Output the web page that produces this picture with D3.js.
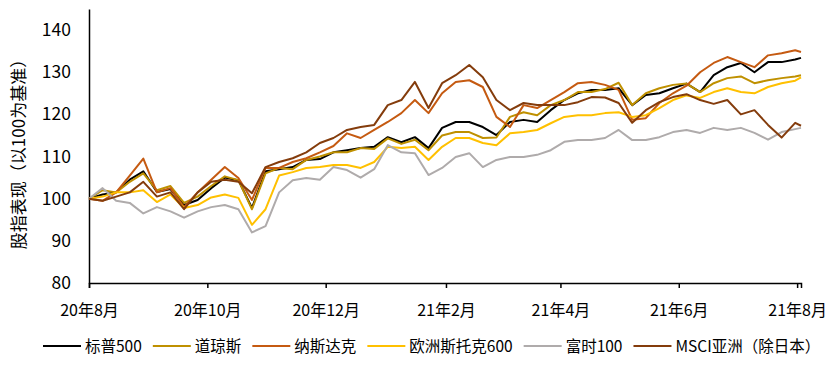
<!DOCTYPE html>
<html>
<head>
<meta charset="utf-8">
<script src="https://cdn.jsdelivr.net/npm/d3@7/dist/d3.min.js"></script>
<style>
body { margin: 0; background: #fff; }
text { font-family: "Noto Sans CJK SC", "Noto Sans", sans-serif; fill: #000; }
</style>
</head>
<body>
<script>
var width = 839, height = 370;

// weekly readings from 2020-08-01, last point 2021-08-03
var startDate = new Date(2020, 7, 1);
var endDate = new Date(2021, 7, 3);

var names = ["标普500", "道琼斯", "纳斯达克", "欧洲斯托克600", "富时100", "MSCI亚洲（除日本）"];
var colors = ["#000000", "#BF9000", "#C55A11", "#FFC000", "#AFABAB", "#843C0C"];

var spx = [100,101,101.5,104.5,106.5,101.6,102.3,98.5,99.7,102.5,105,104.4,97.8,106.5,107,107.5,109.2,109.4,111,111.5,112,112.3,114.6,113.4,114.6,112,116.8,118.2,118.2,117,115.1,118.2,118.7,118.2,121,123.4,125,125.8,125.8,126.2,122.2,124.6,125,126.2,127.3,125.3,129.3,131.2,132.2,130,132.4,132.4,133,133.4];
var dow = [100,102,101.5,104,106,102,103,99,100.5,103,105.3,104.4,97.5,106,107.3,107,109.2,110,111,111,112,111.8,114.3,113,114,111.5,115,115.8,115.8,114.4,114.5,119.4,120.5,119.8,122.2,123.4,125.3,125.3,126,127.5,122.2,125,126.2,127,127.3,125.3,127.4,128.6,129,127.4,128.1,128.6,129,129.3];
var nasdaq = [100,99.5,101.5,105.5,109.5,101.5,102.5,98,101.5,104.5,107.5,104.9,99.7,107.3,107.3,108.7,109.6,111,112.5,115.5,114.4,116.3,118.2,120.3,123.4,120.3,125,127.7,128.1,126.5,119.4,117,122.2,121.5,123.4,125.3,127.4,127.7,127,125.8,118.7,119.1,122.7,125,126.8,130,132.2,133.6,132.4,131.2,134,134.5,135.2,134.8];
var stoxx = [100,100.5,101.5,101.5,102,99.2,101,97.8,98.5,100.3,101,100.2,93.8,97.5,105.5,106.3,107.3,107.5,108,108,107.3,108.7,112.3,112,112.3,109.2,112.3,114.4,114.4,113.2,112.7,115.5,115.8,116.3,117.9,119.4,119.8,119.8,120.3,120.5,119.4,119.8,121.5,123.4,124.5,123.9,125.3,126.2,125.3,125,126.5,127.4,128,128.8];
var ftse = [100,102.5,99.5,99,96.5,98,97,95.5,97,98,98.5,97.5,92,93.5,101.5,104.4,104.9,104.5,107.5,106.8,105,107,112.7,111,110.8,105.6,107.3,109.9,110.8,107.5,109.2,109.9,109.9,110.4,111.5,113.5,113.9,113.9,114.4,116.3,113.9,113.9,114.6,115.8,116.3,115.6,116.8,116.3,116.8,115.6,114,115.8,116.5,116.8];
var msci = [100,99.5,100.5,101.5,104,100.5,101.5,97.5,101.5,104,104.5,104,101.3,107.5,108.7,109.6,111,113.2,114.4,116.3,117,117.5,122.2,123.4,127.7,121.5,127.4,129.3,131.7,128.8,123.4,121,122.7,122.2,122.2,122.2,122.9,124.1,124,122.7,118,121,122.9,124.1,124.8,123.4,122.5,123.4,120,121,117.5,114.5,118,117.3];

var allSeries = [spx, dow, nasdaq, stoxx, ftse, msci];
var yTicks = [80, 90, 100, 110, 120, 130, 140];
var xTicks = [new Date(2020, 7, 1), new Date(2020, 9, 1), new Date(2020, 11, 1),
              new Date(2021, 1, 1), new Date(2021, 3, 1), new Date(2021, 5, 1), new Date(2021, 7, 1)];

var dates = spx.map(function(d, i){
    return i < spx.length - 1 ? d3.timeDay.offset(startDate, 7 * i) : endDate;
});

var svg = d3.select("body").append("svg")
            .attr("width", width).attr("height", height);

var x = d3.scaleTime().domain([startDate, endDate]).range([89, 801]);
var y = d3.scaleLinear().domain([80, 145]).range([283, 9]);

// y axis
var yAxis = svg.append("g").attr("transform", "translate(89,0)")
               .call(d3.axisLeft(y).tickValues(yTicks).tickSize(0).tickPadding(18));
yAxis.select(".domain").attr("stroke", "#000").attr("stroke-width", 1.5);
yAxis.selectAll("text").style("font-size", "17.5px");

// x axis
var xAxis = svg.append("g").attr("transform", "translate(0,283)")
               .call(d3.axisBottom(x).tickValues(xTicks).tickSize(5).tickPadding(17)
               .tickFormat(function(d){ return (d.getFullYear() % 100) + "年" + (d.getMonth() + 1) + "月"; }));
xAxis.select(".domain").attr("stroke", "#000").attr("stroke-width", 1.5);
xAxis.selectAll(".tick line").attr("stroke", "#000").attr("stroke-width", 1.5);
xAxis.selectAll("text").style("font-size", "16px");

svg.append("text").attr("transform", "translate(25,150) rotate(-90)")
   .attr("text-anchor", "middle").style("font-size", "17px")
   .text("股指表现（以100为基准）");

var line = d3.line()
             .x(function(d, i){ return x(dates[i]); })
             .y(function(d){ return y(d); });

svg.append("g").selectAll("path").data(allSeries).enter().append("path")
   .attr("d", line)
   .attr("fill", "none")
   .attr("stroke", function(d, i){ return colors[i]; })
   .attr("stroke-width", 2)
   .attr("stroke-linejoin", "round");

// legend
var legend = svg.append("g").attr("transform", "translate(43,346)");
var lx = 0;
names.forEach(function(n, i){
    legend.append("line").attr("x1", lx).attr("x2", lx + 38).attr("y1", 0).attr("y2", 0)
          .attr("stroke", colors[i]).attr("stroke-width", 2);
    var t = legend.append("text").attr("x", lx + 42).attr("y", 5.5)
                  .style("font-size", "15.5px").text(n);
    lx = lx + 42 + t.node().getComputedTextLength() + 11;
});
</script>
</body>
</html>
